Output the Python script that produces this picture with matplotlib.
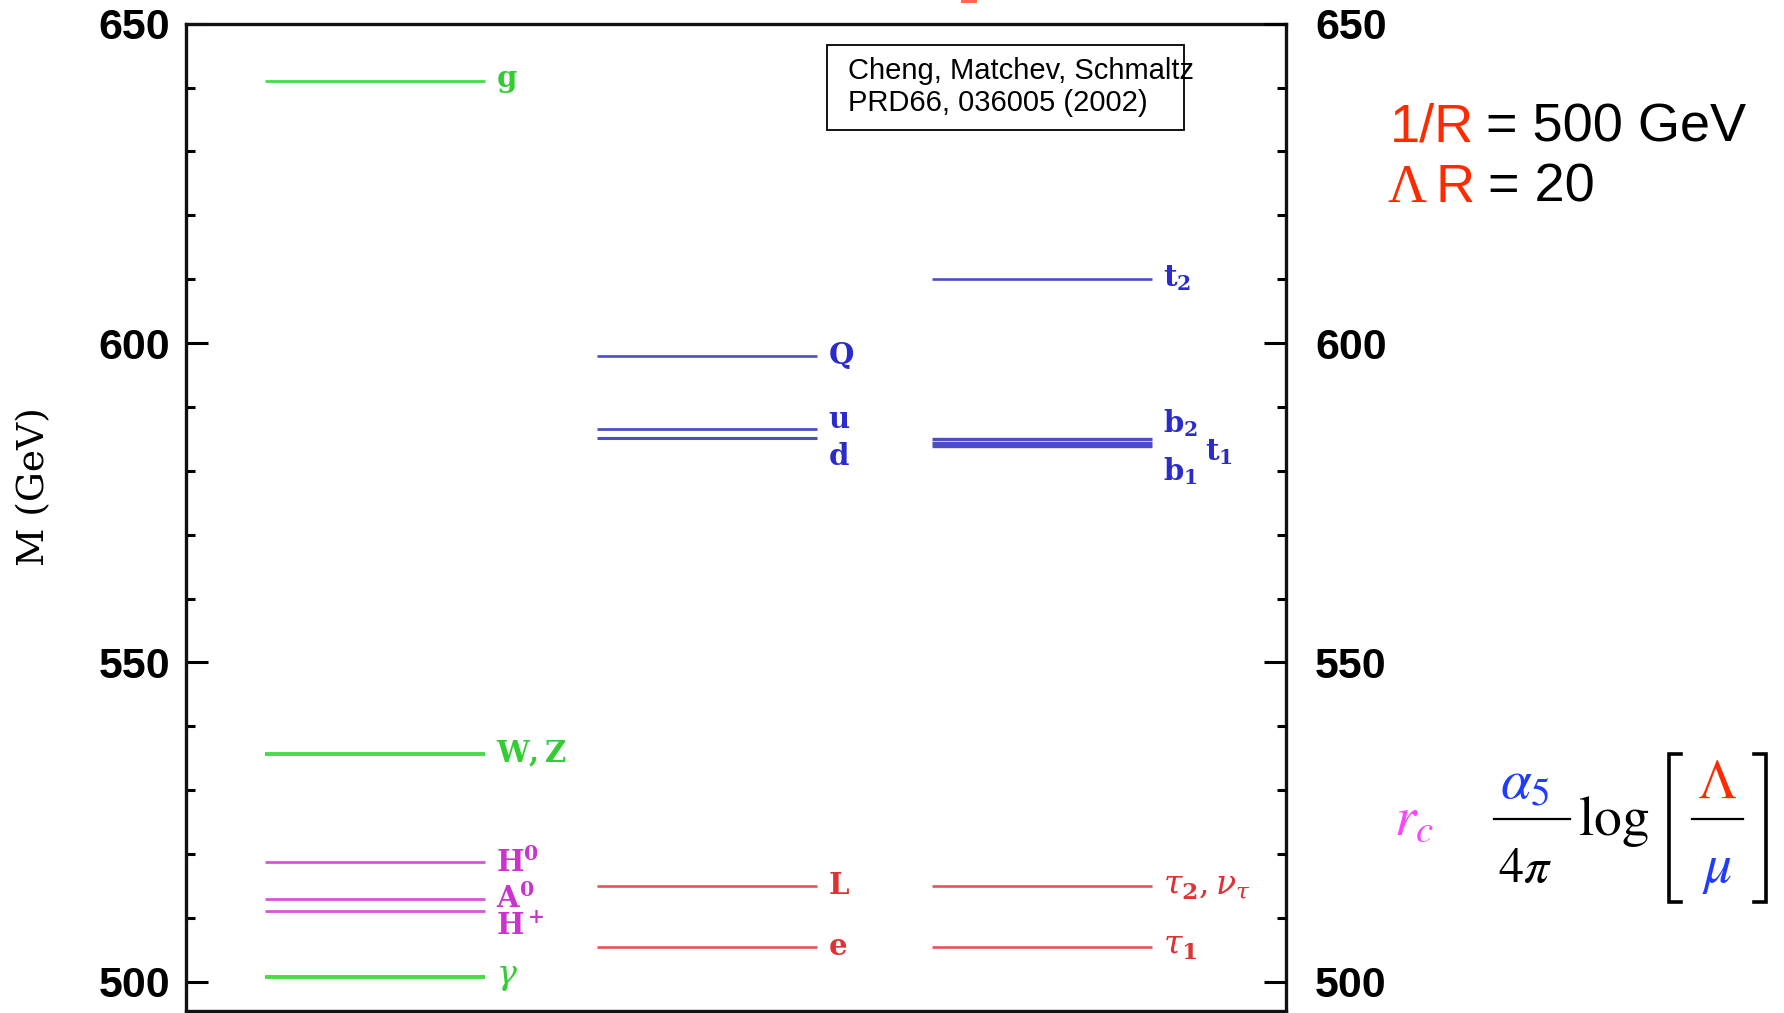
import matplotlib
matplotlib.use('Agg')
import matplotlib.pyplot as plt
from matplotlib.lines import Line2D
from matplotlib.patches import Rectangle
from matplotlib.ticker import MultipleLocator

W, H, DPI = 1784, 1013, 100

# First KK level spectrum (GeV) for 1/R = 500 GeV, Lambda R = 20
gauge_labels = [r'$\mathbf{g}$', r'$\mathbf{W,Z}$', r'$\gamma$']
gauge_mass = [641.1, 535.7, 500.7]
higgs_labels = [r'$\mathbf{H^0}$', r'$\mathbf{A^0}$', r'$\mathbf{H^+}$']
higgs_mass = [518.7, 513.0, 511.0]
quark_labels = [r'$\mathbf{Q}$', r'$\mathbf{u}$', r'$\mathbf{d}$']
quark_mass = [598.0, 586.6, 585.2]
lepton_labels = [r'$\mathbf{L}$', r'$\mathbf{e}$']
lepton_mass = [515.0, 505.5]
third_q_labels = [r'$\mathbf{t_2}$', r'$\mathbf{b_2}$', r'$\mathbf{t_1}$', r'$\mathbf{b_1}$']
third_q_mass = [610.1, 584.9, 584.3, 583.8]
third_l_labels = [r'$\tau_\mathbf{2},\nu_\tau$', r'$\tau_\mathbf{1}$']
third_l_mass = [515.0, 505.5]

y_ticks = [500, 550, 600, 650]
y_range = (495.46, 650.0)

plt.rcParams['font.family'] = ['Liberation Sans', 'DejaVu Sans']

GREEN_L, GREEN_T = '#45dc45', '#33cc33'
MAG_L, MAG_T = '#d855d8', '#cc33cc'
BLUE_L, BLUE_T = '#4c4cc8', '#2b2bcc'
RED_L, RED_T = '#e05555', '#dd3333'

col_start = [0.36, 1.87, 3.39]
col_width = 1.0

fig = plt.figure(figsize=(W / DPI, H / DPI), dpi=DPI)


def fx(px):
    return px / W


def fy(py):
    return 1 - py / H


ax = fig.add_axes([fx(185.5), fy(1010.7), (1286 - 185.5) / W, (1010.7 - 23.7) / H])
ax.set_xlim(0, 5)
ax.set_ylim(*y_range)
ax.tick_params(axis='x', bottom=False, labelbottom=False)
for sp in ax.spines.values():
    sp.set_linewidth(2.4)
    sp.set_color('#111111')

ax.yaxis.set_major_locator(MultipleLocator(50))
ax.yaxis.set_minor_locator(MultipleLocator(10))
ax.set_yticks(y_ticks)
ax.set_yticklabels([str(v) for v in y_ticks], fontsize=31, fontweight='bold')
ax.tick_params(axis='y', which='major', direction='in', length=16, width=2.2, pad=11)
ax.tick_params(axis='y', which='minor', direction='in', length=6.5, width=2.2)

ax2 = ax.twinx()
ax2.set_ylim(*y_range)
ax2.yaxis.set_major_locator(MultipleLocator(50))
ax2.yaxis.set_minor_locator(MultipleLocator(10))
ax2.set_yticks(y_ticks)
ax2.set_yticklabels([str(v) for v in y_ticks], fontsize=31, fontweight='bold')
ax2.tick_params(axis='y', which='major', direction='in', length=16, width=2.2, pad=21)
ax2.tick_params(axis='y', which='minor', direction='in', length=6.5, width=2.2)
for sp in ax2.spines.values():
    sp.set_visible(False)

ax.set_ylabel('M (GeV)', family='DejaVu Serif', fontsize=27)
ax.yaxis.set_label_coords(-0.121, 0.531)

# label nudges (x in axis units, y in GeV) where levels crowd together
label_shift = {
    r'$\mathbf{H^+}$': (0.0, -2.4),
    r'$\mathbf{u}$': (0.0, 1.4),
    r'$\mathbf{d}$': (0.0, -3.0),
    r'$\mathbf{b_2}$': (0.0, 2.6),
    r'$\mathbf{t_1}$': (0.19, -1.3),
    r'$\mathbf{b_1}$': (0.0, -3.8),
}
greek_labels = {r'$\gamma$', r'$\tau_\mathbf{2},\nu_\tau$', r'$\tau_\mathbf{1}$'}

groups = [
    (gauge_labels, gauge_mass, 0, GREEN_L, GREEN_T, [2.0, 2.8, 2.8]),
    (higgs_labels, higgs_mass, 0, MAG_L, MAG_T, [2.0, 2.0, 2.0]),
    (quark_labels, quark_mass, 1, BLUE_L, BLUE_T, [1.9, 2.0, 2.2]),
    (lepton_labels, lepton_mass, 1, RED_L, RED_T, [1.9, 1.9]),
    (third_q_labels, third_q_mass, 2, BLUE_L, BLUE_T, [1.9, 2.4, 2.4, 2.4]),
    (third_l_labels, third_l_mass, 2, RED_L, RED_T, [1.9, 1.9]),
]

for labels, masses, col, lc, tc, lws in groups:
    x0 = col_start[col]
    for lab, m, lw in zip(labels, masses, lws):
        ax.hlines(m, x0, x0 + col_width, color=lc, lw=lw, zorder=3)
        dx, dy = label_shift.get(lab, (0.0, 0.0))
        size = 24 if lab in greek_labels else 21
        ax.text(x0 + col_width + 0.05 + dx, m + dy, lab, color=tc, fontsize=size,
                ha='left', va='center', math_fontfamily='dejavuserif', zorder=4)

# reference box
ax.add_patch(Rectangle((0.583, 0.8924), 0.907 - 0.583, 0.9785 - 0.8924,
                       transform=ax.transAxes, fill=False, ec='black', lw=1.3, zorder=5))
ax.text(0.602, 0.9517, 'Cheng, Matchev, Schmaltz', transform=ax.transAxes,
        fontsize=21, ha='left', va='center', zorder=6)
ax.text(0.602, 0.9193, 'PRD66, 036005 (2002)', transform=ax.transAxes,
        fontsize=21, ha='left', va='center', zorder=6)

# parameter annotations
RED = '#ff2a00'
fig.text(fx(1390), fy(141), '1/R', color=RED, fontsize=39, ha='left', va='baseline')
fig.text(fx(1486), fy(141), '= 500 GeV', color='black', fontsize=39, ha='left', va='baseline')
fig.text(fx(1388), fy(202), '\u039b', color=RED, fontsize=39, family='Liberation Serif',
         ha='left', va='baseline')
fig.text(fx(1435), fy(202), 'R', color=RED, fontsize=39, ha='left', va='baseline')
fig.text(fx(1488), fy(202), '= 20', color='black', fontsize=39, ha='left', va='baseline')

# radiative correction formula
MAGENTA = '#ff44ff'
BLUE = '#1f3cff'
fs = 40
fig.text(fx(1394), fy(835), r'$r_c$', color=MAGENTA, fontsize=fs, math_fontfamily='stix',
         ha='left', va='baseline')
fig.text(fx(1500), fy(798), r'$\alpha_5$', color=BLUE, fontsize=fs, math_fontfamily='stix',
         ha='left', va='baseline')
fig.text(fx(1498), fy(882), r'$4\pi$', color='black', fontsize=36, math_fontfamily='stix',
         ha='left', va='baseline')
fig.text(fx(1578), fy(835), r'$\mathrm{log}$', color='black', fontsize=fs,
         math_fontfamily='stix', ha='left', va='baseline')
fig.text(fx(1717), fy(798), r'$\Lambda$', color=RED, fontsize=fs, math_fontfamily='stix',
         ha='center', va='baseline')
fig.text(fx(1717), fy(882), r'$\mu$', color=BLUE, fontsize=fs, math_fontfamily='stix',
         ha='center', va='baseline')

for (xa, xb) in [(1494, 1570), (1692, 1743)]:
    fig.add_artist(Line2D([fx(xa), fx(xb)], [fy(819), fy(819)], color='black', lw=1.6))
# square brackets
fig.add_artist(Line2D([fx(1681), fx(1669), fx(1669), fx(1681)],
                      [fy(754), fy(754), fy(902), fy(902)], color='black', lw=2.6,
                      solid_joinstyle='miter'))
fig.add_artist(Line2D([fx(1754), fx(1766), fx(1766), fx(1754)],
                      [fy(754), fy(754), fy(902), fy(902)], color='black', lw=2.6,
                      solid_joinstyle='miter'))

# clipped heading fragment at the top edge
fig.add_artist(Rectangle((fx(961), fy(3)), fx(16), 3 / H, color='#ff6a4a', lw=0))

fig.savefig('out.png', dpi=DPI)
